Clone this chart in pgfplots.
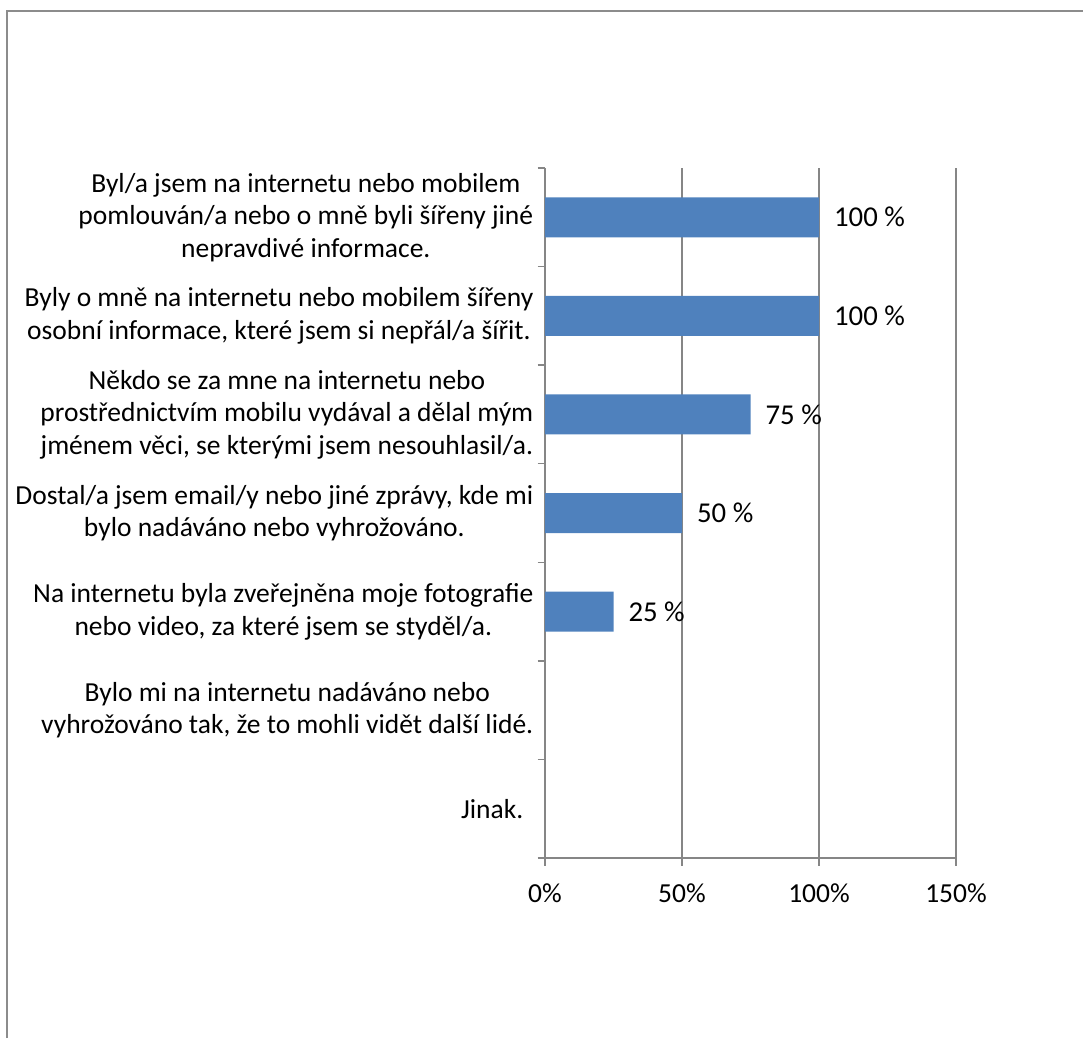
\documentclass[border=0pt]{standalone}
\usepackage{fontspec}
\setmainfont{Carlito}
\usepackage{pgfplots}
\pgfplotsset{compat=1.18}
\definecolor{barblue}{HTML}{4F81BD}
\definecolor{axgray}{HTML}{868686}
\definecolor{framegray}{HTML}{8C8C8C}
\newcommand\lbl{\fontsize{11}{13}\selectfont}
\newcommand\dlbl{\fontsize{11.5}{13}\selectfont}
\begin{document}
\begin{tikzpicture}[x=0.4pt,y=0.4pt]
\useasboundingbox (0,0) rectangle (1083,1038);
\draw[framegray,line width=0.9pt] (7,0) -- (7,1027) -- (1083,1027);
\begin{axis}[
  at={(218pt,72pt)}, anchor=south west,
  scale only axis, width=164.4pt, height=276pt,
  xbar, bar width=16pt,
  xmin=0, xmax=150, xtick={0,50,100,150},
  xticklabel={\pgfmathprintnumber{\tick}\%},
  /pgf/number format/assume math mode=true,
  ymin=-0.5, ymax=6.5, y dir=reverse,
  ytick={-0.5,0.5,...,6.5}, yticklabels={},
  extra y ticks={0,1,2,3,4,5,6},
  extra y tick labels={
    {Byl/a jsem na internetu nebo mobilem\\pomlouván/a nebo o mně byli šířeny jiné\\nepravdivé informace.},
    {Byly o mně na internetu nebo mobilem šířeny\\osobní informace, které jsem si nepřál/a šířit.},
    {Někdo se za mne na internetu nebo\\prostřednictvím mobilu vydával a dělal mým\\jménem věci, se kterými jsem nesouhlasil/a.},
    {Dostal/a jsem email/y nebo jiné zprávy, kde mi\\bylo nadáváno nebo vyhrožováno.},
    {Na internetu byla zveřejněna moje fotografie\\nebo video, za které jsem se styděl/a.},
    {Bylo mi na internetu nadáváno nebo\\vyhrožováno tak, že to mohli vidět další lidé.},
    {Jinak.\hspace*{4pt}}},
  extra y tick style={major tick length=0pt, tick style={draw=none}},
  yticklabel style={font=\lbl, align=center, inner sep=0pt, xshift=-4.5pt},
  xticklabel style={font=\lbl, inner sep=0pt, yshift=-7pt},
  tick align=outside, major tick length=3pt,
  tick style={axgray, line width=0.6pt},
  axis x line*=bottom, axis y line*=left,
  axis line style={axgray, line width=0.6pt, -},
  xmajorgrids, grid style={axgray, line width=0.6pt},
  nodes near coords={\pgfmathprintnumber{\pgfplotspointmeta} \%},
  point meta=x,
  every node near coord/.append style={font=\dlbl, anchor=west, xshift=2.5pt, black},
  clip=false,
]
\addplot[fill=barblue, draw=none, restrict x to domain=1:1000]
  coordinates {(100,0) (100,1) (75,2) (50,3) (25,4) (0,5) (0,6)};
\end{axis}
\end{tikzpicture}
\end{document}
